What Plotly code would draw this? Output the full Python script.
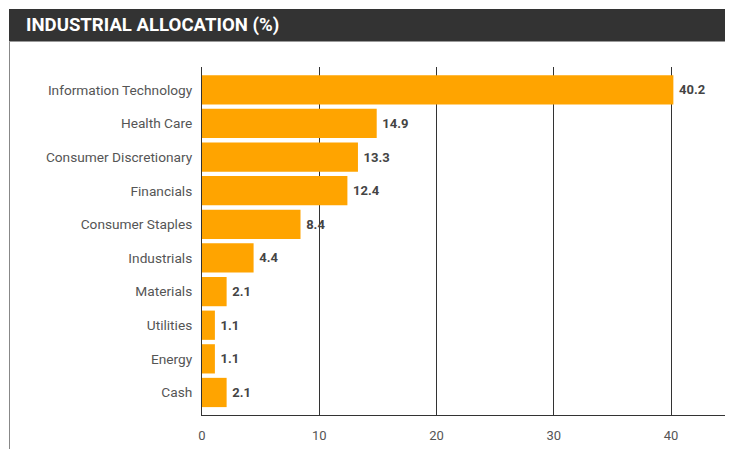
import plotly.graph_objects as go

categories = ["Information Technology", "Health Care", "Consumer Discretionary", "Financials",
              "Consumer Staples", "Industrials", "Materials", "Utilities", "Energy", "Cash"]
values = [40.2, 14.9, 13.3, 12.4, 8.4, 4.4, 2.1, 1.1, 1.1, 2.1]
x_ticks = [0, 10, 20, 30, 40]
title_text = "INDUSTRIAL ALLOCATION (%)"

# page body adds an 8px margin, so the figure is drawn 8px smaller
OFF = 8
W, H = 733 - OFF, 449 - OFF
ML, MR, MT, MB = 202 - OFF, 1, 67 - OFF, 34
pw, ph = W - ML - MR, H - MT - MB

def px_x(p):
    return (p - OFF - ML) / pw

def px_y(p):
    return (H - MB - (p - OFF)) / ph

fig = go.Figure(go.Bar(
    x=values, y=categories, orientation="h",
    marker=dict(color="#FFA400", line=dict(width=0)),
    text=["\u2009" + f"{v:.1f}" for v in values], textposition="outside",
    textfont=dict(family="Roboto", size=13, color="#444444", weight="bold"),
    cliponaxis=False, width=0.87,
))

fig.update_layout(
    width=W, height=H, margin=dict(l=ML, r=MR, t=MT, b=MB),
    paper_bgcolor="white", plot_bgcolor="white", showlegend=False,
    font=dict(family="Roboto", color="#555555", size=13),
    xaxis=dict(range=[0, 45.2], tickvals=x_ticks, showgrid=True, gridcolor="#333333",
               gridwidth=1, zeroline=False, showline=True, linecolor="#333333",
               tickfont=dict(size=13, color="#555555"), ticks="", ticklabelstandoff=8),
    yaxis=dict(categoryorder="array", categoryarray=categories, range=[9.67, -0.68],
               showgrid=False, zeroline=False, showline=True, linecolor="#333333",
               ticks="", ticklabelstandoff=6, tickfont=dict(size=13.7, color="#555555")),
    shapes=[
        dict(type="rect", xref="paper", yref="paper", x0=px_x(9), x1=px_x(733),
             y0=px_y(41), y1=px_y(9), fillcolor="#333333", line=dict(width=0), layer="above"),
        dict(type="line", xref="paper", yref="paper", x0=px_x(9.5), x1=px_x(9.5),
             y0=px_y(41), y1=px_y(449), line=dict(color="#888888", width=1)),
        dict(type="line", xref="paper", yref="paper", x0=px_x(9), x1=px_x(733),
             y0=px_y(41.5), y1=px_y(41.5), line=dict(color="#999999", width=1)),
    ],
    annotations=[
        dict(text=title_text, xref="paper", yref="paper", x=px_x(24), y=px_y(25),
             xanchor="left", yanchor="middle", showarrow=False,
             font=dict(family="Roboto", size=18.6, color="white", weight="bold")),
    ],
)

fig.write_html("out.html")
